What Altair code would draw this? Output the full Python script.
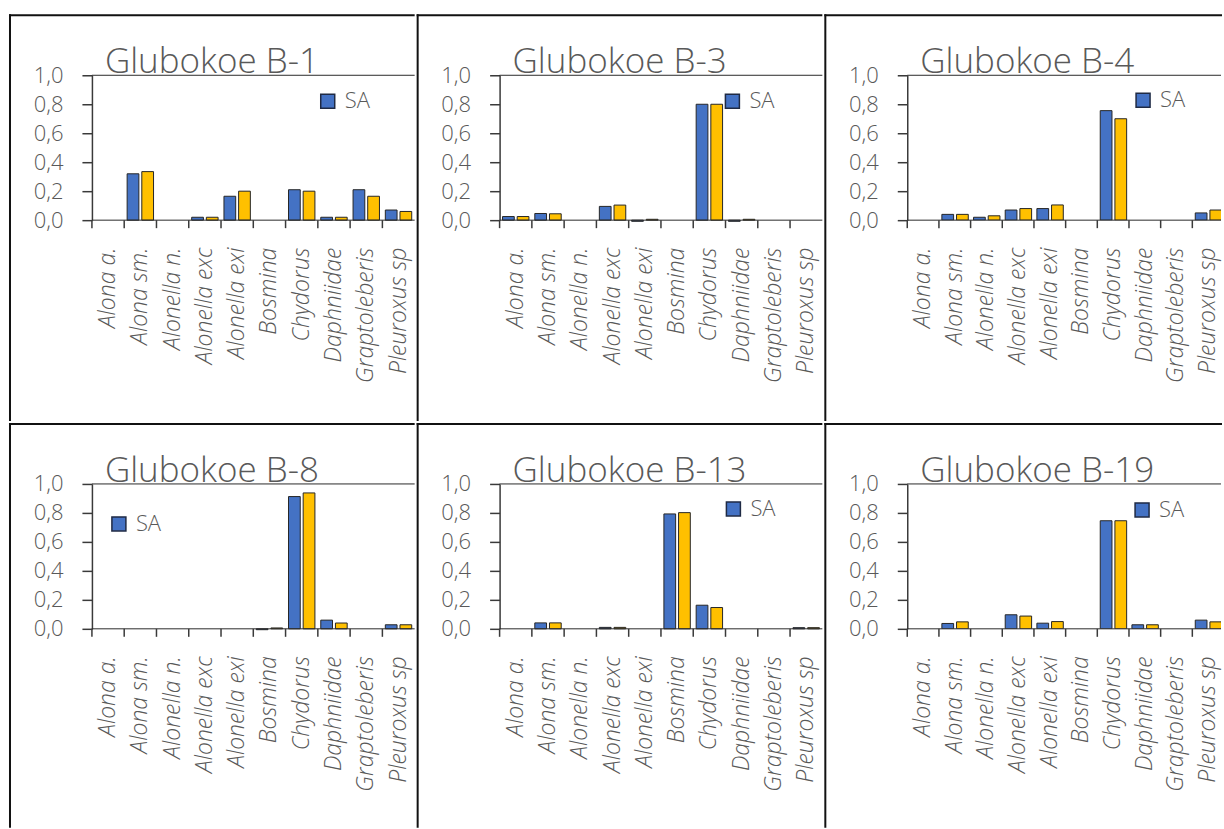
import altair as alt
import pandas as pd

# Cladocera taxa shown on every panel (x categories)
taxa = ["Alona a.", "Alona sm.", "Alonella n.", "Alonella exc", "Alonella exi",
        "Bosmina", "Chydorus", "Daphniidae", "Graptoleberis", "Pleuroxus sp"]
series_names = ["SA", "Series 2"]

sites = ["Glubokoe B-1", "Glubokoe B-3", "Glubokoe B-4",
         "Glubokoe B-8", "Glubokoe B-13", "Glubokoe B-19"]

# relative abundance per site, one list per series
sa_b1 = [0, 0.32, 0, 0.02, 0.165, 0, 0.21, 0.02, 0.21, 0.07]
s2_b1 = [0, 0.335, 0, 0.02, 0.20, 0, 0.20, 0.02, 0.165, 0.06]
sa_b3 = [0.025, 0.046, 0, 0.095, -0.008, 0, 0.80, -0.008, 0, 0]
s2_b3 = [0.025, 0.044, 0, 0.104, 0.006, 0, 0.80, 0.006, 0, 0]
sa_b4 = [0, 0.04, 0.02, 0.07, 0.08, 0, 0.756, 0, 0, 0.05]
s2_b4 = [0, 0.04, 0.03, 0.08, 0.105, 0, 0.70, 0, 0, 0.07]
sa_b8 = [0, 0, 0, 0, 0, -0.006, 0.913, 0.06, 0, 0.028]
s2_b8 = [0, 0, 0, 0, 0, 0.006, 0.938, 0.04, 0, 0.028]
sa_b13 = [0, 0.041, 0, 0.01, 0, 0.793, 0.163, 0, 0, 0.008]
s2_b13 = [0, 0.041, 0, 0.01, 0, 0.802, 0.147, 0, 0, 0.008]
sa_b19 = [0, 0.037, 0, 0.097, 0.039, 0, 0.746, 0.028, 0, 0.06]
s2_b19 = [0, 0.048, 0, 0.088, 0.05, 0, 0.746, 0.028, 0, 0.048]

sa_values = [sa_b1, sa_b3, sa_b4, sa_b8, sa_b13, sa_b19]
s2_values = [s2_b1, s2_b3, s2_b4, s2_b8, s2_b13, s2_b19]

# legend placement inside each plot (pixels from the plot's top-left corner)
legend_pos = [(225, 15), (222, 15), (225, 14), (16, 29), (223, 14), (224, 15)]

FONT = "Open Sans"
TEXT_GREY = "#595959"
AXIS_COLOR = "#3a3a3a"
LINE_COLOR = "#2a2a2a"
FRAME_COLOR = "#111111"
BLUE = "#4472C4"
GOLD = "#FFC000"
BAND_SPAN = 323      # pixel span of the ten category bands
EDGE_SPAN = 317      # band span of the right-hand column, which runs to the page edge
PLOT_H = 145
Y_TICKS = [0, 0.2, 0.4, 0.6, 0.8, 1.0]


def edge(df, x, x2, y, y2):
    """One straight side of the box drawn around a panel."""
    return alt.Chart(df).mark_rule(
        color=FRAME_COLOR, strokeWidth=2, strokeCap="square"
    ).encode(x=alt.value(x), x2=alt.value(x2), y=alt.value(y), y2=alt.value(y2))


def panel(name, sa, s2, pos, col, row):
    last_col = col == 2
    plot_w = 314 if last_col else BAND_SPAN
    span = EDGE_SPAN if last_col else BAND_SPAN
    bottom = 345 if row == 0 else 343

    df = pd.DataFrame({
        "taxon": taxa * 2,
        "series": [series_names[0]] * len(taxa) + [series_names[1]] * len(taxa),
        "value": list(sa) + list(s2),
    })
    label_df = pd.DataFrame({"site": [name]})
    taxa_df = pd.DataFrame({"taxon": taxa})

    x_scale = alt.Scale(domain=taxa, range=[0, span],
                        paddingInner=0, paddingOuter=0)
    y_scale = alt.Scale(domain=[0, 1], nice=False)
    y_axis = alt.Axis(title=None, values=Y_TICKS, tickCount=6,
                      labelExpr="replace(format(datum.value, '.1f'), '.', ',')",
                      tickSize=10, labelPadding=19, labelFontSize=22,
                      labelOverlap=False)

    bars = alt.Chart(df).transform_filter("datum.value != 0").mark_bar(
        stroke="#262626", strokeWidth=1, clip=last_col
    ).encode(
        x=alt.X("taxon:N", sort=taxa, scale=x_scale,
                axis=alt.Axis(title=None, domain=False, ticks=False, tickSize=0,
                              labelAngle=270, labelAlign="right",
                              labelBaseline="middle", labelPadding=27,
                              labelFontStyle="italic", labelFontSize=23,
                              labelOverlap=False)),
        xOffset=alt.XOffset("series:N", sort=series_names,
                            scale=alt.Scale(domain=series_names,
                                            paddingInner=0.2, paddingOuter=0.2)),
        y=alt.Y("value:Q", scale=y_scale, axis=y_axis),
        color=alt.Color("series:N",
                        scale=alt.Scale(domain=series_names, range=[BLUE, GOLD]),
                        legend=alt.Legend(values=["SA"], title=None, orient="none",
                                          legendX=pos[0], legendY=pos[1],
                                          padding=0, symbolType="square",
                                          symbolSize=196, symbolStrokeColor="#1f2a44",
                                          symbolStrokeWidth=1.5, labelFont=FONT,
                                          labelFontSize=22, labelFontWeight=300,
                                          labelColor=TEXT_GREY, labelOffset=6)),
    )

    # category boundary ticks below the baseline
    cat_ticks = alt.Chart(taxa_df).mark_rule(
        color=AXIS_COLOR, strokeWidth=1.5
    ).encode(
        x=alt.X("taxon:N", sort=taxa, bandPosition=0, title=None),
        y=alt.value(PLOT_H), y2=alt.value(PLOT_H + 8),
    )

    baseline = alt.Chart(label_df).mark_rule(
        color=LINE_COLOR, strokeWidth=1
    ).encode(y=alt.YDatum(0, scale=y_scale, axis=y_axis))

    top_line = alt.Chart(label_df).mark_rule(
        color=LINE_COLOR, strokeWidth=1
    ).encode(y=alt.YDatum(1, scale=y_scale, axis=y_axis))

    title = alt.Chart(label_df).mark_text(
        align="left", baseline="alphabetic", font=FONT, fontSize=35,
        fontWeight=300, color=TEXT_GREY
    ).encode(text="site:N", x=alt.value(13), y=alt.value(-2))

    # panel box: top and left sides; the neighbouring panels supply the others
    right = plot_w if last_col else 322
    sides = [edge(label_df, -82, right, -60, -60),
             edge(label_df, -82, -82, -60, bottom)]

    return alt.layer(bars, top_line, baseline, cat_ticks, title, *sides).properties(
        width=plot_w, height=PLOT_H
    )


panels = [panel(sites[i], sa_values[i], s2_values[i], legend_pos[i], i % 3, i // 3)
          for i in range(6)]

row1 = alt.hconcat(*panels[:3], spacing=0).resolve_scale(color="independent")
row2 = alt.hconcat(*panels[3:], spacing=0).resolve_scale(color="independent")

chart = alt.vconcat(row1, row2, spacing=0).resolve_scale(
    color="independent"
).properties(
    padding={"left": 8, "top": 13, "right": 0, "bottom": 0},
    background="white",
).configure_view(
    strokeWidth=0
).configure_axis(
    grid=False,
    domainColor=AXIS_COLOR,
    domainWidth=1.5,
    tickColor=AXIS_COLOR,
    tickWidth=1.5,
    labelFont=FONT,
    labelFontWeight=300,
    labelColor=TEXT_GREY,
)

chart.save("out.html", embed_options={"renderer": "svg", "actions": False})
